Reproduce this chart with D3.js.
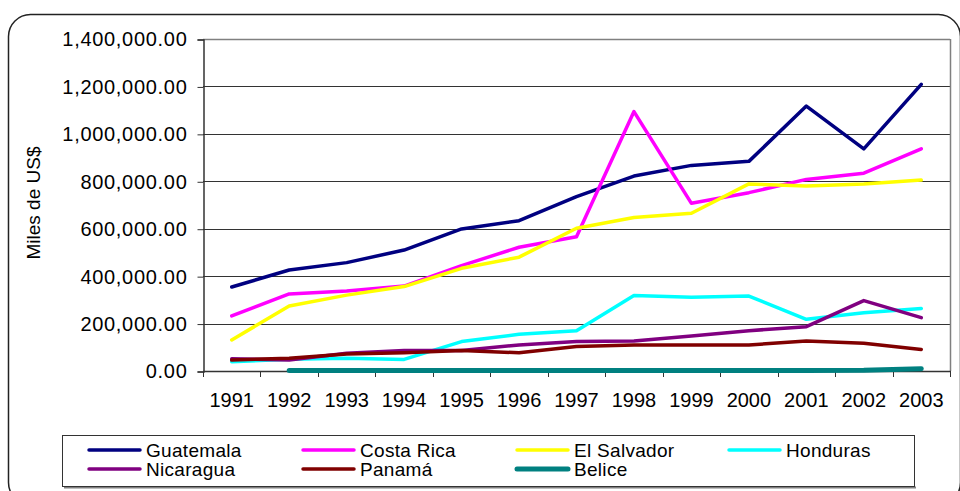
<!DOCTYPE html>
<html>
<head>
<meta charset="utf-8">
<script src="https://cdn.jsdelivr.net/npm/d3@7"></script>
<style>
  body { margin: 0; background: #fff; }
  svg { display: block; font-family: Arial, "Liberation Sans", sans-serif; }
</style>
</head>
<body>
<svg width="960" height="491"></svg>
<script>
var years = ['1991', '1992', '1993', '1994', '1995', '1996', '1997', '1998', '1999', '2000', '2001', '2002', '2003'];
var yTicks = [0, 200000, 400000, 600000, 800000, 1000000, 1200000, 1400000];

var guatemala = [354000, 426000, 457000, 510000, 599000, 634000, 735000, 822000, 867000, 884000, 1117000, 937000, 1209000];
var costaRica = [232000, 325000, 337000, 358000, 444000, 522000, 566000, 1094000, 707000, 752000, 808000, 834000, 937000];
var elSalvador = [131000, 274000, 320000, 356000, 433000, 480000, 602000, 647000, 665000, 789000, 780000, 789000, 805000];
var honduras = [39000, 50000, 54000, 49000, 124000, 155000, 170000, 318000, 311000, 316000, 218000, 246000, 264000];
var nicaragua = [52000, 46000, 75000, 86000, 86000, 110000, 124000, 127000, 148000, 170000, 187000, 297000, 225000];
var panama = [46000, 54000, 72000, 77000, 86000, 77000, 103000, 110000, 110000, 110000, 126000, 117000, 91000];
var belice = [null, 2000, 2000, 2000, 2000, 2000, 2000, 2000, 2000, 2000, 2000, 3000, 10000];

var series = [
  { name: 'Guatemala', values: guatemala, color: '#000080', w: 3.5 },
  { name: 'Costa Rica', values: costaRica, color: '#ff00ff', w: 3.5 },
  { name: 'El Salvador', values: elSalvador, color: '#ffff00', w: 3.5 },
  { name: 'Honduras', values: honduras, color: '#00ffff', w: 3.5 },
  { name: 'Nicaragua', values: nicaragua, color: '#800080', w: 3.5 },
  { name: 'Panamá', values: panama, color: '#800000', w: 3.5 },
  { name: 'Belice', values: belice, color: '#008080', w: 5 }
];

var svg = d3.select('svg');

// outer rounded frame (runs off the right and bottom edge)
svg.append('rect')
  .attr('x', 8.5).attr('y', 14.5)
  .attr('width', 952).attr('height', 490)
  .attr('rx', 22)
  .attr('fill', '#fff')
  .attr('stroke', '#222')
  .attr('stroke-width', 1.5);

var plotL = 203, plotR = 950, plotT = 39, plotB = 371;

var x = d3.scaleBand().domain(years).range([plotL, plotR]).padding(0);
var y = d3.scaleLinear().domain([0, 1400000]).range([plotB, plotT]);

// gridlines
svg.append('g')
  .selectAll('line')
  .data(yTicks.filter((d) => d > 0))
  .enter()
  .append('line')
  .attr('x1', plotL).attr('x2', plotR)
  .attr('y1', (d) => Math.round(y(d)) + 0.5)
  .attr('y2', (d) => Math.round(y(d)) + 0.5)
  .attr('stroke', (d) => (d === 1400000 ? '#808080' : '#333'))
  .attr('stroke-width', (d) => (d === 1400000 ? 1.5 : 1));

// right border of plot area
svg.append('line')
  .attr('x1', plotR + 0.5).attr('x2', plotR + 0.5)
  .attr('y1', plotT).attr('y2', plotB)
  .attr('stroke', '#808080').attr('stroke-width', 1.5);

// y axis
var yAxis = d3.axisLeft(y)
  .tickValues(yTicks)
  .tickSize(6)
  .tickPadding(10)
  .tickFormat(d3.format(',.2f'));

svg.append('g')
  .attr('transform', 'translate(' + (plotL + 0.5) + ',0.5)')
  .call(yAxis)
  .call((g) => g.select('.domain').attr('stroke', '#333').attr('stroke-width', 1.5))
  .call((g) => g.selectAll('.tick line').attr('stroke', '#333'))
  .call((g) => g.selectAll('text')
    .attr('font-size', 20)
    .attr('letter-spacing', 0.7)
    .attr('font-family', 'Arial, "Liberation Sans", sans-serif')
    .attr('fill', '#000'));

// x axis: ticks between categories
var xAxisG = svg.append('g');
xAxisG.append('line')
  .attr('x1', plotL).attr('x2', plotR + 1)
  .attr('y1', plotB + 0.5).attr('y2', plotB + 0.5)
  .attr('stroke', '#333').attr('stroke-width', 1.5);

xAxisG.selectAll('line.tk')
  .data(years.concat(['end']))
  .enter()
  .append('line')
  .attr('class', 'tk')
  .attr('x1', (d, i) => Math.round(plotL + i * x.bandwidth()) + 0.5)
  .attr('x2', (d, i) => Math.round(plotL + i * x.bandwidth()) + 0.5)
  .attr('y1', plotB).attr('y2', plotB + 6)
  .attr('stroke', '#333');

xAxisG.selectAll('text')
  .data(years)
  .enter()
  .append('text')
  .attr('x', (d) => x(d) + x.bandwidth() / 2)
  .attr('y', 407)
  .attr('text-anchor', 'middle')
  .attr('font-size', 20)
  .attr('fill', '#000')
  .text((d) => d);

// y title
svg.append('text')
  .attr('transform', 'translate(40,203) rotate(-90)')
  .attr('text-anchor', 'middle')
  .attr('font-size', 19)
  .attr('fill', '#000')
  .text('Miles de US$');

// lines
var line = d3.line()
  .defined((d) => d.v !== null)
  .x((d) => x(d.year) + x.bandwidth() / 2)
  .y((d) => y(d.v));

svg.append('g')
  .selectAll('path')
  .data(series)
  .enter()
  .append('path')
  .attr('d', (s) => line(s.values.map((v, i) => ({ year: years[i], v: v }))))
  .attr('fill', 'none')
  .attr('stroke', (s) => s.color)
  .attr('stroke-width', (s) => s.w)
  .attr('stroke-linejoin', 'round')
  .attr('stroke-linecap', 'round');

// legend
var legend = svg.append('g');
legend.append('line')
  .attr('x1', 64).attr('x2', 916)
  .attr('y1', 487.5).attr('y2', 487.5)
  .attr('stroke', '#808080').attr('stroke-width', 2);
legend.append('rect')
  .attr('x', 62.5).attr('y', 435.5)
  .attr('width', 852).attr('height', 51)
  .attr('fill', '#fff')
  .attr('stroke', '#333')
  .attr('stroke-width', 1);

var colX = [89, 303, 517, 729];
var rowY = [450, 469];

var item = legend.selectAll('g.item')
  .data(series)
  .enter()
  .append('g')
  .attr('class', 'item')
  .attr('transform', (d, i) => 'translate(' + colX[i % 4] + ',' + rowY[Math.floor(i / 4)] + ')');

item.append('line')
  .attr('x1', 0).attr('x2', 51)
  .attr('stroke', (d) => d.color)
  .attr('stroke-width', (d) => d.w)
  .attr('stroke-linecap', 'round');

item.append('text')
  .attr('x', 57)
  .attr('y', 7)
  .attr('font-size', 19)
  .attr('letter-spacing', 0.3)
  .attr('fill', '#000')
  .text((d) => d.name);
</script>
</body>
</html>
